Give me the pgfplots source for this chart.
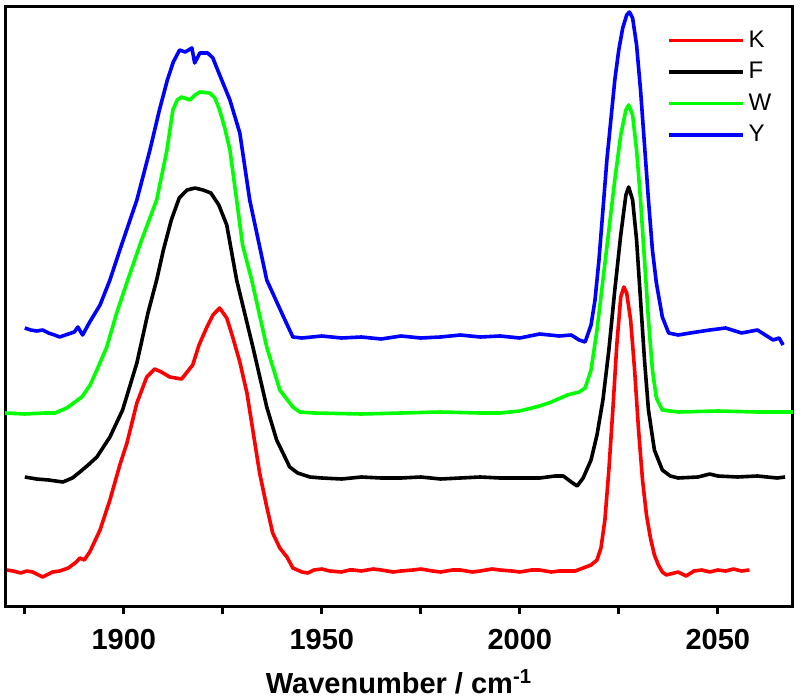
\documentclass[border=0pt]{standalone}
\usepackage{fontspec}
\setmainfont{Liberation Sans}
\usepackage{pgfplots}
\pgfplotsset{compat=1.18}
\usepackage{pgfplotstable}

\pgfplotstableread{
x y
1870.5 36
1872 35
1874 33
1875.5 35
1877 34
1878.5 31
1879.5 29
1881 32
1882 34
1883.8 35
1886 38
1888 44
1888.9 48
1890 46
1891.4 54
1894 76
1896.5 106
1899 141
1900.8 163
1903.3 203
1905.8 229
1907.8 237
1909.5 234
1911.6 229
1914.6 227
1917.4 241
1919 261
1921 279
1922.5 291
1924.2 298
1926 288
1927.5 269
1929.3 244
1931.1 213
1932.7 173
1934.3 133
1936 101
1937.6 73
1939.4 58
1941.2 49
1942.7 38
1945 34
1946.5 33
1948 36
1950 37
1952 35
1955 34
1957 36
1958 36
1960 35
1963 37
1965 36
1968 34
1970 35
1973 36
1975 37
1978 35
1980 34
1983 36
1985 36
1988 34
1990 35
1993 37
1995 36
1998 35
2000 34
2003 36
2005 36
2008 34
2010 35
2014 35
2016 38
2018 41
2019.5 46
2020.5 58
2021.5 86
2022.5 136
2023.5 196
2024.5 261
2025.5 309
2026.3 319
2027 313
2028 286
2029 236
2030 176
2031 126
2032 91
2033 68
2034 51
2035 41
2036 34
2037 31
2038 32
2040 34
2042 30
2044 35
2046 36
2048 34
2050 36
2052 35
2054 37
2056 35
2058 36
}\dataK

\pgfplotstableread{
x y
1875 129
1878 127
1881 126
1884.6 124
1887 128
1888.9 134
1891 141
1893.2 149
1896.5 169
1899.7 196
1903.3 243
1906.1 293
1908.3 326
1910 356
1912 386
1914 408
1916 416
1918 418
1920 416
1922 413
1924 401
1926 381
1928.5 326
1932.6 259
1936.1 199
1938.6 166
1941.9 139
1943.9 133
1947 129
1950 128
1955 127
1960 129
1965 128
1970 128
1975 129
1980 127
1985 128
1990 129
1995 128
2000 128
2005 128
2009 130
2011 130
2013 124
2014.5 120
2016 128
2018 146
2019.5 171
2021 206
2022.5 256
2024 316
2025.5 371
2026.8 411
2027.5 419
2028.5 406
2029.5 366
2030.5 306
2031.5 246
2032.5 196
2034 156
2036 136
2038 130
2040 128
2045 129
2048 132
2050 130
2055 129
2060 130
2065 128
2067 129
}\dataF

\pgfplotstableread{
x y
1870 193
1875 192
1880 193
1882.6 193
1885.6 198
1889.4 209
1891.5 221
1893.2 236
1895.7 259
1898.2 293
1901 326
1904.5 366
1908.3 406
1910.9 456
1912.4 496
1913.5 506
1914.6 509
1916.7 506
1918 511
1919.2 514
1921.7 513
1923 508
1924.2 496
1925.5 478
1926.8 456
1928.5 406
1930 361
1932.3 326
1936.1 259
1939.4 216
1942.7 199
1944.4 194
1948 193
1960 192
1970 193
1980 194
1990 193
1995 193
2000 195
2005 200
2008 204
2012 211
2015 214
2016.5 218
2018 236
2019.5 276
2021 326
2022.5 376
2024 426
2025.5 471
2026.8 496
2027.5 501
2028.5 491
2029.5 456
2030.5 406
2031.5 346
2032.5 286
2033.5 236
2034.5 208
2036 196
2040 194
2050 195
2060 194
2069 194
}\dataW

\pgfplotstableread{
x y
1875 278
1876.5 276
1878 275
1879.5 276
1881 273
1882.5 271
1883.8 269
1886 272
1887.5 274
1888.4 279
1889.6 271
1891.4 284
1894 301
1896.5 326
1899 356
1903.3 406
1906.6 456
1909 496
1911 526
1912.5 544
1914.1 556
1915.5 554
1917.2 558
1917.9 543
1919.2 553
1921.2 553
1922.5 548
1923.7 536
1926.8 506
1929.3 473
1931.8 406
1936.1 326
1940.7 286
1942.7 269
1945 268
1950 270
1955 268
1960 269
1965 267
1970 270
1975 268
1980 269
1985 271
1990 269
1995 270
2000 268
2005 272
2010 270
2013 271
2015 266
2016.5 264
2018 281
2019 306
2020 346
2021 396
2022 446
2023 486
2024 526
2025 556
2026 578
2027 591
2027.7 594
2028.5 588
2029.5 561
2030.5 516
2031.5 461
2032.5 406
2033.5 356
2034.5 323
2036 289
2037.6 273
2040 271
2043 273
2048 276
2052 278
2056 273
2060 276
2062 271
2064 266
2065.5 268
2066.5 261
}\dataY

\begin{document}
\begin{tikzpicture}
\begin{axis}[
  at={(0,0)}, anchor=south west,
  scale only axis,
  width=394pt, height=300pt,
  xmin=1870, xmax=2069,
  ymin=0, ymax=600,
  axis line style={line width=1.5pt},
  ytick=\empty,
  xtick={1900,1950,2000,2050},
  minor xtick={1875,1925,1975,2025},
  xtick pos=bottom,
  tick align=outside,
  major tick length=4pt,
  minor tick length=4pt,
  every tick/.style={black, line width=1.5pt},
  /pgf/number format/assume math mode=true,
  /pgf/number format/set thousands separator={},
  xticklabel style={font=\fontsize{14.5}{14.5}\selectfont\bfseries, yshift=-4pt},
  xlabel={Wavenumber / cm\textsuperscript{-1}},
  xlabel style={font=\fontsize{14.5}{14.5}\selectfont\bfseries, at={(axis description cs:0.5,0)}, anchor=center, yshift=-38pt},
  legend style={at={(0.978,0.966)}, anchor=north east, draw=none, fill=none,
    font=\fontsize{12}{12}\selectfont, row sep=2pt, inner sep=0pt},
  legend cell align=left,
  legend image code/.code={\draw[#1, line width=1.8pt] (0pt,0pt) -- (37pt,0pt);},
  every axis plot/.append style={line width=1.8pt, line join=round},
  clip=true,
]
\addplot[color={rgb,255:red,255;green,0;blue,0}] table[x=x,y=y] {\dataK};
\addlegendentry{K}
\addplot[color=black] table[x=x,y=y] {\dataF};
\addlegendentry{F}
\addplot[color={rgb,255:red,0;green,255;blue,0}] table[x=x,y=y] {\dataW};
\addlegendentry{W}
\addplot[color={rgb,255:red,0;green,0;blue,255}] table[x=x,y=y] {\dataY};
\addlegendentry{Y}
\end{axis}
\pgfresetboundingbox
\path (-2.5pt,-46pt) rectangle (397.5pt,303pt);
\end{tikzpicture}
\end{document}
